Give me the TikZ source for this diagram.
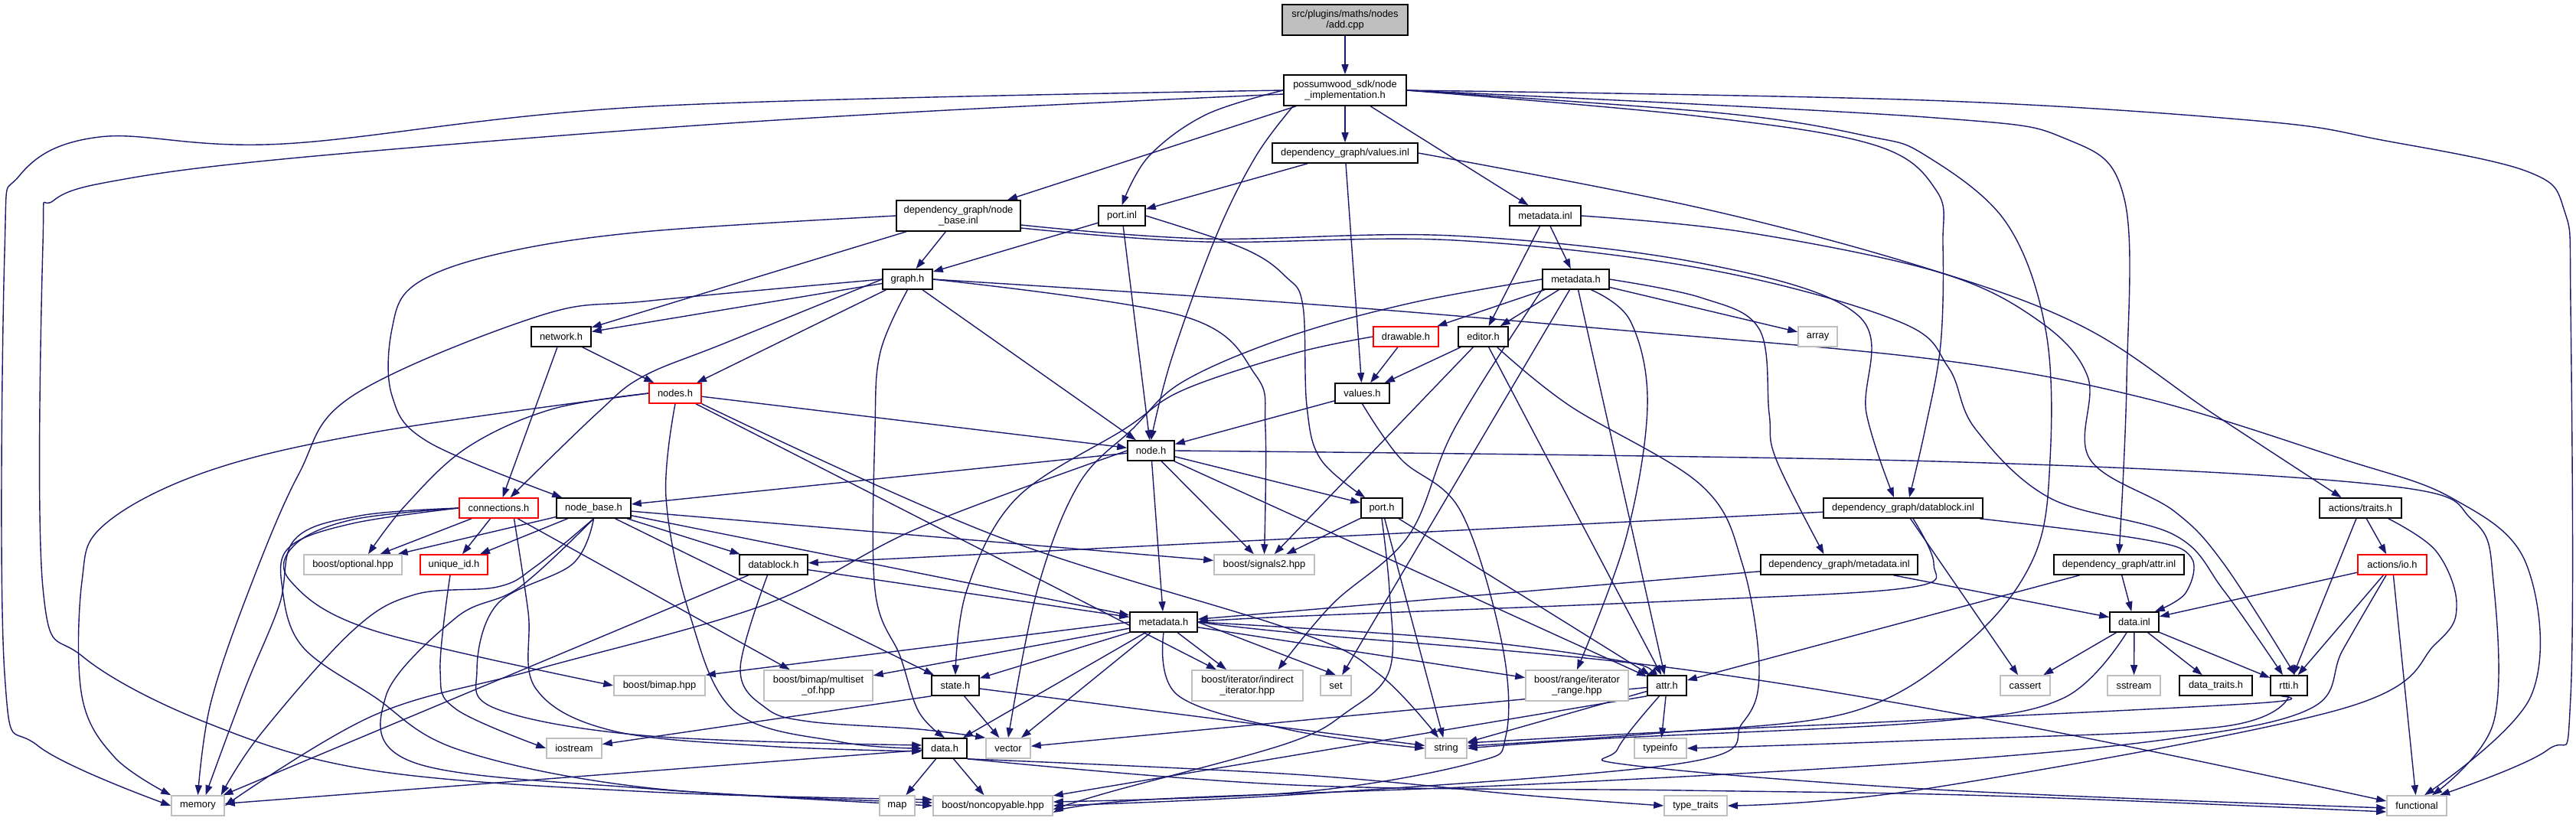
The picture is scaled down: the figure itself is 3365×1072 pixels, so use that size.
\documentclass[tikz,border=0pt]{standalone}
\usepackage{fontspec}
\setmainfont{Liberation Sans}
\usetikzlibrary{arrows.meta,calc}
\definecolor{edgec}{HTML}{191970}
\definecolor{grayb}{HTML}{BFBFBF}
\definecolor{redc}{HTML}{FF0000}
\pgfdeclarelayer{bglayer}
\pgfdeclarelayer{edgelayer}
\pgfsetlayers{bglayer,edgelayer,main}
\newcommand{\mknode}[6]{\node[#6, minimum width={(#3-#2)*1pt}] (#1) at ({(#2+#3)/2},#4) {#5};}
\begin{document}
\begin{tikzpicture}[x=1pt,y=-1pt,
  base/.style={rectangle, draw=black, line width=1.6pt, fill=white, inner sep=0pt, minimum height=26pt, align=center, font=\fontsize{12.9}{14}\selectfont},
  sysb/.style={base, draw=grayb},
  redb/.style={base, draw=redc},
  rootb/.style={base, fill=grayb},
  two/.style={minimum height=40pt},
  edg/.style={draw=edgec, line width=1.4pt, -{Triangle[length=13pt,width=9pt]}}
]
\useasboundingbox (0,0) rectangle (3365,1072);
\begin{pgfonlayer}{bglayer}
\fill[white] (0,0) rectangle (3365,1072);
\end{pgfonlayer}
% ---------------- nodes ----------------
\mknode{root}{1675}{1839}{26}{src/plugins/maths/nodes\\/add.cpp}{rootb,two}
\mknode{impl}{1677}{1837}{118}{possumwood\_sdk/node\\\_implementation.h}{base,two}
\mknode{valinl}{1662}{1852}{200}{dependency\_graph/values.inl}{base}
\mknode{nbinl}{1171}{1333}{282}{dependency\_graph/node\\\_base.inl}{base,two}
\mknode{portinl}{1435}{1496}{282}{port.inl}{base}
\mknode{mdinl}{1972}{2065}{282}{metadata.inl}{base}
\mknode{graph}{1153}{1218}{365}{graph.h}{base}
\mknode{mdh}{2015}{2102}{365}{metadata.h}{base}
\mknode{network}{694}{772}{440}{network.h}{base}
\mknode{drawable}{1794}{1879}{440}{drawable.h}{redb}
\mknode{editor}{1905}{1970}{440}{editor.h}{base}
\mknode{array}{2349}{2400}{440}{array}{sysb}
\mknode{nodes}{848}{916}{514}{nodes.h}{redb}
\mknode{valh}{1744}{1815}{514}{values.h}{base}
\mknode{node}{1473}{1534}{589}{node.h}{base}
\mknode{conn}{600}{703}{664}{connections.h}{redb}
\mknode{nbh}{727}{824}{664}{node\_base.h}{base}
\mknode{porth}{1778}{1832}{664}{port.h}{base}
\mknode{dbinl}{2382}{2590}{664}{dependency\_graph/datablock.inl}{base}
\mknode{traits}{3030}{3137}{664}{actions/traits.h}{base}
\mknode{optional}{397}{525}{738}{boost/optional.hpp}{sysb}
\mknode{uid}{549}{637}{738}{unique\_id.h}{redb}
\mknode{dbh}{966}{1055}{738}{datablock.h}{base}
\mknode{sig}{1586}{1717}{738}{boost/signals2.hpp}{sysb}
\mknode{dgmdinl}{2300}{2505}{738}{dependency\_graph/metadata.inl}{base}
\mknode{attrinl}{2683}{2853}{738}{dependency\_graph/attr.inl}{base}
\mknode{io}{3080}{3170}{738}{actions/io.h}{redb}
\mknode{mdh2}{1476}{1564}{813}{metadata.h}{base}
\mknode{datainl}{2756}{2820}{813}{data.inl}{base}
\mknode{bimap}{802}{921}{896}{boost/bimap.hpp}{sysb}
\mknode{multiset}{998}{1140}{896}{boost/bimap/multiset\\\_of.hpp}{sysb,two}
\mknode{state}{1217}{1279}{896}{state.h}{base}
\mknode{indirect}{1557}{1702}{896}{boost/iterator/indirect\\\_iterator.hpp}{sysb,two}
\mknode{set}{1725}{1765}{896}{set}{sysb}
\mknode{range}{1993}{2127}{896}{boost/range/iterator\\\_range.hpp}{sysb,two}
\mknode{attrh}{2152}{2203}{896}{attr.h}{base}
\mknode{cassert}{2613}{2678}{896}{cassert}{sysb}
\mknode{sstream}{2753}{2822}{896}{sstream}{sysb}
\mknode{dtraits}{2847}{2942}{896}{data\_traits.h}{base}
\mknode{rtti}{2966}{3014}{896}{rtti.h}{base}
\mknode{iostream}{714}{786}{978}{iostream}{sysb}
\mknode{datah}{1205}{1263}{978}{data.h}{base}
\mknode{vector}{1288}{1346}{978}{vector}{sysb}
\mknode{string}{1862}{1916}{978}{string}{sysb}
\mknode{typeinfo}{2135}{2203}{978}{typeinfo}{sysb}
\mknode{memory}{224}{293}{1053}{memory}{sysb}
\mknode{map}{1149}{1195}{1053}{map}{sysb}
\mknode{noncopy}{1219}{1375}{1053}{boost/noncopyable.hpp}{sysb}
\mknode{ttraits}{2174}{2256}{1053}{type\_traits}{sysb}
\mknode{functional}{3118}{3196}{1053}{functional}{sysb}
% ---------------- edges ----------------
\begin{pgfonlayer}{edgelayer}
% straight edges
\draw[edg] (root) -- (impl);
\draw[edg] (impl) -- (valinl);
\draw[edg] (impl) -- (nbinl);
\draw[edg] (impl) -- (mdinl);
\draw[edg] (valinl) -- (portinl);
\draw[edg] (valinl) -- (valh);
\draw[edg] (nbinl) -- (graph);
\draw[edg] (nbinl) -- (network);
\draw[edg] (portinl) -- (graph);
\draw[edg] (portinl) -- (node);
\draw[edg] (mdinl) -- (mdh);
\draw[edg] (mdinl) -- (editor);
\draw[edg] (graph) -- (network);
\draw[edg] (graph) -- (nodes);
\draw[edg] (graph) -- (node);
\draw[edg] (mdh) -- (drawable);
\draw[edg] (mdh) -- (editor);
\draw[edg] (mdh) -- (array);
\draw[edg] (mdh) -- (set);
\draw[edg] (mdh) -- (attrh);
\draw[edg] (network) -- (nodes);
\draw[edg] (network) -- (conn);
\draw[edg] (drawable) -- (valh);
\draw[edg] (editor) -- (valh);
\draw[edg] (editor) -- (attrh);
\draw[edg] (editor) -- (sig);
\draw[edg] (nodes) -- (node);
\draw[edg] (nodes) -- (indirect);
\draw[edg] (valh) -- (node);
\draw[edg] (node) -- (nbh);
\draw[edg] (node) -- (porth);
\draw[edg] (node) -- (sig);
\draw[edg] (node) -- (mdh2);
\draw[edg] (node) -- (attrh);
\draw[edg] (conn) -- (optional);
\draw[edg] (conn) -- (uid);
\draw[edg] (conn) -- (multiset);
\draw[edg] (nbh) -- (optional);
\draw[edg] (nbh) -- (uid);
\draw[edg] (nbh) -- (dbh);
\draw[edg] (nbh) -- (sig);
\draw[edg] (nbh) -- (mdh2);
\draw[edg] (nbh) -- (state);
\draw[edg] (porth) -- (sig);
\draw[edg] (porth) -- (string);
\draw[edg] (porth) -- (attrh);
\draw[edg] (dbinl) -- (dbh);
\draw[edg] (dbinl) -- (cassert);
\draw[edg] (traits) -- (io);
\draw[edg] (traits) -- (rtti);
\draw[edg] (dbh) -- (mdh2);
\draw[edg] (dbh) -- (memory);
\draw[edg] (dgmdinl) -- (mdh2);
\draw[edg] (dgmdinl) -- (datainl);
\draw[edg] (attrinl) -- (datainl);
\draw[edg] (attrinl) -- (attrh);
\draw[edg] (io) -- (datainl);
\draw[edg] (io) -- (rtti);
\draw[edg] (io) -- (functional);
\draw[edg] (mdh2.west) -- (bimap.north east);
\draw[edg] (mdh2) -- (multiset);
\draw[edg] (mdh2) -- (state);
\draw[edg] (mdh2) -- (datah);
\draw[edg] (mdh2) -- (vector);
\draw[edg] (mdh2) -- (indirect);
\draw[edg] (mdh2.east) -- (set.north);
\draw[edg] (mdh2) -- (range);
\draw[edg] (datainl) -- (cassert);
\draw[edg] (datainl) -- (sstream);
\draw[edg] (datainl) -- (dtraits);
\draw[edg] (datainl) -- (rtti);
\draw[edg] (state.south west) -- (iostream);
\draw[edg] (state) -- (vector);
\draw[edg] (state) -- (string);
\draw[edg] (attrh) -- (string);
\draw[edg] (attrh) -- (typeinfo);
\draw[edg] (attrh.south west) -- (noncopy);
\draw[edg] (attrh) -- (vector);
\draw[edg] (datah) -- (map);
\draw[edg] (datah) -- (noncopy);
\draw[edg] (datah) -- (memory);
% curved edges
\draw[edg] plot[smooth,tension=0.6] coordinates {(impl.west) (1575,150) (1500,205) (portinl.north)};
\draw[edg] plot[smooth,tension=0.6] coordinates {($(impl.south west)+(13,0)$) (1640,205) (1588,310) (1530,470) (node.north)};
\draw[edg] plot[smooth,tension=0.6] coordinates {(impl.west) (850,139) (370,188) (130,179) (25,230) (6,330) (6,880) (50,975) (memory.west)};
\draw[edg] plot[smooth,tension=0.6] coordinates {($(impl.west)+(0,5)$) (1219,145) (840,169) (379,207) (163,234) (70,262) (56,320) (56,768) (108,858) (271,945) (488,1007) (850,1035) ($(noncopy.west)+(0,-8)$)};
\draw[edg] plot[smooth,tension=0.6] coordinates {(impl.east) (2220,152) (2450,190) (2530,250) (2538,320) (2535,450) (2515,560) ($(dbinl.north)+(8,0)$)};
\draw[edg] plot[smooth,tension=0.6] coordinates {(impl.east) (2515,153) (2700,182) (2775,260) (2778,500) (attrinl.north)};
\draw[edg] plot[smooth,tension=0.6] coordinates {(impl.east) (2250,148) (2440,178) (2515,203) (2620,290) (2672,430) (2678,600) (2656,730) (2569,841) (2420,930) (2168,958) ($(string.east)+(0,-3)$)};
\draw[edg] plot[smooth,tension=0.6] coordinates {(impl.east) (2515,131) (2949,158) (3111,183) (3301,224) (3350,276) (3358,400) (3358,910) (3328,980) ($(functional.north)+(30,0)$)};
\draw[edg] plot[smooth,tension=0.6] coordinates {(valinl.east) (2222,272) (2515,350) (2721,427) (2890,540) ($(traits.north)+(-25,0)$)};
\draw[edg] plot[smooth,tension=0.6] coordinates {(nbinl.west) (840,303) (650,332) (542,372) (512,430) (512,517) (560,578) ($(nbh.north west)+(8,0)$)};
\draw[edg] plot[smooth,tension=0.6] coordinates {($(nbinl.east)+(0,12)$) (1574,312) (1897,308) (2222,344) (2428,413) (2438,540) ($(dbinl.north)+(-12,0)$)};
\draw[edg] plot[smooth,tension=0.6] coordinates {($(nbinl.east)+(0,16)$) (1574,316) (1900,314) (2230,352) (2480,420) (2545,480) (2580,560) (2678,651) (2840,699) (2905,772) ($(rtti.north)+(-8,0)$)};
\draw[edg] plot[smooth,tension=0.6] coordinates {(portinl.east) (1625,325) (1680,362) (1702,400) (1707,530) (1725,600) ($(porth.north west)+(6,0)$)};
\draw[edg] plot[smooth,tension=0.6] coordinates {(mdinl.east) (2277,303) (2530,355) (2660,417) (2727,492) (2730,600) (2840,668) (2905,737) ($(rtti.north)+(8,0)$)};
\draw[edg] plot[smooth,tension=0.6] coordinates {(graph.west) (948,448) (840,492) (780,540) ($(conn.north)+(15,0)$)};
\draw[edg] plot[smooth,tension=0.6] coordinates {(graph.east) (1545,413) (1640,490) (1653,560) (sig.north)};
\draw[edg] plot[smooth,tension=0.6] coordinates {(graph.south) (1150,460) (1143,560) (1143,771) (1176,858) (1200,930) (datah.north)};
\draw[edg] plot[smooth,tension=0.6] coordinates {(graph.west) (850,393) (704,413) (461,517) (390,620) (325,772) (275,920) (memory.north)};
\draw[edg] plot[smooth,tension=0.6] coordinates {(graph.east) (1690,396) (2100,430) (2530,470) (2800,520) (3057,599) (3203,651) (3300,737) (3306,910) ($(functional.north)+(10,0)$)};
\draw[edg] plot[smooth,tension=0.6] coordinates {(mdh.east) (2222,389) (2298,430) (2311,540) (2320,600) ($(dgmdinl.north)+(-20,0)$)};
\draw[edg] plot[smooth,tension=0.6] coordinates {($(mdh.south)+(20,0)$) (2130,420) (2152,530) (2124,703) (range.north)};
\draw[edg] plot[smooth,tension=0.6] coordinates {(mdh.west) (1843,396) (1680,441) (1545,499) (1480,560) (1409,633) (1355,771) (vector.north)};
\draw[edg] plot[smooth,tension=0.6] coordinates {(mdh.south west) (1900,560) (1840,700) (1740,790) ($(indirect.north)+(40,0)$)};
\draw[edg] plot[smooth,tension=0.6] coordinates {(drawable.west) (1690,462) (1545,510) (1470,560) (1328,651) (1263,771) (state.north)};
\draw[edg] plot[smooth,tension=0.6] coordinates {($(editor.south east)+(-15,0)$) (2050,530) (2222,634) (2276,737) (2298,876) (2276,945) (2200,997) (1700,1038) (noncopy.east)};
\draw[edg] plot[smooth,tension=0.6] coordinates {(nodes.west) (720,535) (610,585) (530,660) ($(optional.north)+(20,0)$)};
\draw[edg] plot[smooth,tension=0.6] coordinates {(nodes.west) (488,565) (271,616) (136,686) (107,760) (107,910) (150,990) (memory.north west)};
\draw[edg] plot[smooth,tension=0.6] coordinates {(nodes.south) (870,650) (900,800) (960,930) (1100,970) (datah.west)};
\draw[edg] plot[smooth,tension=0.6] coordinates {(nodes.south east) (1300,700) (1690,824) (1800,880) ($(string.north)+(-10,0)$)};
\draw[edg] plot[smooth,tension=0.6] coordinates {(valh.south) (1830,600) (1908,668) (1962,841) (1967,962) (1924,997) (1700,1035) ($(noncopy.east)+(0,-5)$)};
\draw[edg] plot[smooth,tension=0.6] coordinates {(node.east) (2530,603) (3111,634) (3230,680) (3257,760) (3257,945) ($(functional.north)+(20,0)$)};
\draw[edg] plot[smooth,tension=0.6] coordinates {(node.west) (1200,690) (1000,790) (700,875) (488,935) (memory.east)};
\draw[edg] plot[smooth,tension=0.6] coordinates {(conn.west) (461,679) (385,712) (380,760) (488,824) (bimap.west)};
\draw[edg] plot[smooth,tension=0.6] coordinates {(conn.west) (470,674) (385,705) (365,790) (320,900) ($(memory.north)+(10,0)$)};
\draw[edg] plot[smooth,tension=0.6] coordinates {(conn.west) (461,684) (378,715) (369,770) (395,845) (488,910) (600,980) (850,1030) ($(noncopy.west)+(0,-4)$)};
\draw[edg] plot[smooth,tension=0.6] coordinates {($(conn.south)+(20,0)$) (690,800) (700,900) (800,955) (1000,975) ($(datah.west)+(0,4)$)};
\draw[edg] plot[smooth,tension=0.6] coordinates {(nbh.south) (700,740) (650,767) (542,777) (461,824) (340,960) ($(memory.north east)+(-5,0)$)};
\draw[edg] plot[smooth,tension=0.6] coordinates {(nbh.south) (678,768) (596,807) (504,910) (542,997) (850,1031) ($(noncopy.west)+(0,0)$)};
\draw[edg] plot[smooth,tension=0.6] coordinates {(nbh.south) (748,737) (650,789) (623,876) (650,927) (850,962) ($(datah.west)+(0,-4)$)};
\draw[edg] plot[smooth,tension=0.6] coordinates {(porth.south) (1815,772) (1815,876) (1760,930) (1680,972) (1450,1035) ($(noncopy.east)+(0,5)$)};
\draw[edg] plot[smooth,tension=0.6] coordinates {($(dbinl.south east)+(-5,0)$) (2800,705) (2862,728) (2855,775) ($(datainl.north east)+(-6,0)$)};
\draw[edg] plot[smooth,tension=0.6] coordinates {($(dbinl.south)+(13,0)$) (2526,737) (2493,768) (2200,785) (1680,806) (mdh2.east)};
\draw[edg] plot[smooth,tension=0.6] coordinates {($(traits.south east)+(-18,0)$) (3182,720) (3209,789) (3182,841) (3057,927) (2515,1031) (ttraits.east)};
\draw[edg] plot[smooth,tension=0.6] coordinates {($(uid.south)+(-5,0)$) (575,876) (596,927) (iostream.west)};
\draw[edg] plot[smooth,tension=0.6] coordinates {($(dbh.south)+(-8,0)$) (967,874) (1000,925) (1057,943) (1200,953) (vector.north west)};
\draw[edg] plot[smooth,tension=0.6] coordinates {($(io.south)+(-8,0)$) (3060,850) (3020,925) (2840,965) (2515,996) (2000,1025) (1500,1045) ($(noncopy.east)+(0,9)$)};
\draw[edg] plot[smooth,tension=0.6] coordinates {(mdh2.east) (1700,828) (2177,872) (2650,950) ($(functional.west)+(0,-6)$)};
\draw[edg] plot[smooth,tension=0.6] coordinates {(mdh2.south) (1539,909) (1690,955) (string.west)};
\draw[edg] plot[smooth,tension=0.6] coordinates {(mdh2.east) (1900,835) (2130,866) (attrh.north west)};
\draw[edg] plot[smooth,tension=0.6] coordinates {($(datainl.south)+(-10,0)$) (2694,913) (2515,944) (2100,965) (string.east)};
\draw[edg] plot[smooth,tension=0.6] coordinates {($(rtti.south)+(-10,0)$) (2949,919) (2515,941) (2150,958) ($(string.east)+(0,-7)$)};
\draw[edg] plot[smooth,tension=0.6] coordinates {(rtti.south) (2900,950) (2500,968) (typeinfo.east)};
\draw[edg] plot[smooth,tension=0.6] coordinates {($(attrh.south)+(-10,0)$) (2113,979) (2130,1000) (2530,1032) ($(functional.west)+(0,3)$)};
\draw[edg] plot[smooth,tension=0.6] coordinates {(datah.south east) (1690,1012) (2000,1040) (ttraits.west)};
\draw[edg] plot[smooth,tension=0.6] coordinates {(datah.south east) (1690,1026) (2200,1033) (2600,1040) ($(functional.west)+(0,8)$)};
\end{pgfonlayer}
\end{tikzpicture}
\end{document}
